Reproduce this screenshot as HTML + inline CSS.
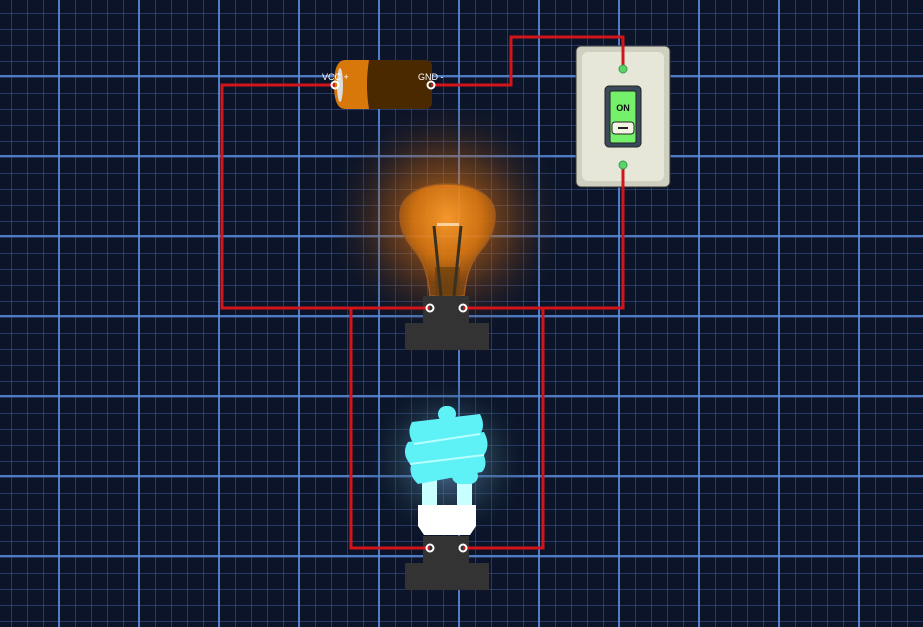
<!DOCTYPE html>
<html><head><style>
html,body{margin:0;padding:0;}
body{width:923px;height:627px;overflow:hidden;background:#0b1429;
background-image:
linear-gradient(90deg, rgba(90,140,220,0.85) 0 2px, transparent 2px),
linear-gradient(0deg, rgba(90,140,220,0.85) 0 2px, transparent 2px),
linear-gradient(90deg, rgba(60,90,150,0.55) 0 1px, transparent 1px),
linear-gradient(0deg, rgba(60,90,150,0.55) 0 1px, transparent 1px);
background-size:80px 80px,80px 80px,16px 16px,16px 16px;
background-position:58px 0,0 77px,11px 0,0 14px;}
svg{position:absolute;left:0;top:0}
</style></head><body>
<svg width="923" height="627" viewBox="0 0 923 627" font-family="Liberation Sans, sans-serif">
<defs>
<radialGradient id="og" cx="0.5" cy="0.5" r="0.5">
<stop offset="0" stop-color="#ff8a10" stop-opacity="0.8"/>
<stop offset="0.5" stop-color="#b05a10" stop-opacity="0.4"/>
<stop offset="1" stop-color="#0b1429" stop-opacity="0"/>
</radialGradient>
<radialGradient id="cg" cx="0.5" cy="0.5" r="0.5">
<stop offset="0" stop-color="#7ad" stop-opacity="0.7"/>
<stop offset="0.6" stop-color="#356" stop-opacity="0.35"/>
<stop offset="1" stop-color="#0b1429" stop-opacity="0"/>
</radialGradient>
<radialGradient id="bulb" cx="0.5" cy="0.3" r="0.6">
<stop offset="0" stop-color="#ffa030"/>
<stop offset="0.6" stop-color="#e07a10"/>
<stop offset="1" stop-color="#8a4a10"/>
</radialGradient>
</defs>
<circle cx="447" cy="220" r="125" fill="url(#og)"/>
<circle cx="447" cy="460" r="85" fill="url(#cg)"/>
<!-- incandescent bulb -->
<path d="M430,296 C428,275 424,262 414,250 C404,238 400,228 400,215 C400,196 420,184 447,184 C474,184 495,196 495,215 C495,228 491,238 481,250 C471,262 466,275 464,296 Z" fill="url(#bulb)" fill-opacity="0.8" stroke="#a05a20" stroke-width="1.5"/>
<rect x="435" y="267" width="25" height="30" fill="#6a4010" opacity="0.7"/>
<rect x="437" y="223" width="22" height="3" fill="#ffd0a0"/>
<path d="M434,226 L441,296 M461,226 L454,296" stroke="#3a3020" stroke-width="3"/>
<rect x="423" y="296" width="46" height="28" fill="#333"/>
<rect x="405" y="323" width="84" height="27" fill="#333"/>
<!-- CFL -->
<rect x="422" y="480" width="15" height="30" fill="#c8ffff"/>
<rect x="457" y="480" width="15" height="30" fill="#c8ffff"/>
<g fill="#5ef2f7">
<rect x="438" y="406" width="18" height="16" rx="8"/>
<path d="M412,422 L480,414 Q486,426 480,434 L414,444 Q406,433 412,422Z"/>
<path d="M408,442 L484,432 Q491,445 484,455 L410,464 Q401,453 408,442Z"/>
<path d="M412,462 L482,452 Q489,464 482,472 L418,484 Q407,474 412,462Z"/>
<rect x="452" y="468" width="26" height="16" rx="8"/>
</g>
<g stroke="#b8ffff" stroke-width="2" fill="none">
<path d="M414,444 L480,434"/><path d="M410,464 L484,455"/>
</g>
<path d="M418,505 L476,505 L476,526 L470,535 L424,535 L418,526Z" fill="#fff"/>
<rect x="423" y="536" width="46" height="28" fill="#333"/>
<rect x="405" y="563" width="84" height="27" fill="#333"/>
<!-- battery -->
<rect x="355" y="60" width="77" height="49" rx="6" fill="#4a2800"/>
<path d="M345,60 L369,60 Q365,85 369,109 L345,109 Q334,109 334,85 Q334,60 345,60Z" fill="#d8780a"/>
<ellipse cx="340" cy="85" rx="3" ry="17" fill="#ddd"/>
<text x="322" y="80" font-size="9" fill="#fff">VCC +</text>
<text x="418" y="80" font-size="9" fill="#fff">GND -</text>
<!-- switch -->
<rect x="576" y="46" width="94" height="141" rx="5" fill="#cfd0c0" stroke="#333" stroke-width="1"/>
<rect x="582" y="52" width="82" height="129" rx="6" fill="#e6e7d8"/>
<rect x="605" y="86" width="36" height="61" rx="4" fill="#3a4a5a" stroke="#222"/>
<rect x="610" y="91" width="26" height="52" rx="2" fill="#74f06a" stroke="#222"/>
<text x="623" y="111" font-size="9" font-weight="bold" text-anchor="middle" fill="#111">ON</text>
<rect x="612" y="122" width="22" height="12" rx="3" fill="#f4f4e4" stroke="#222"/>
<rect x="618" y="127" width="10" height="2" fill="#222"/>
<!-- wires -->
<g fill="none" stroke="#d2151b" stroke-width="3">
<path d="M335,85 H222 V308 H430"/>
<path d="M431,85 H511 V37 H623 V69"/>
<path d="M623,165 V308 H463"/>
<path d="M351,308 V548 H430"/>
<path d="M543,308 V548 H463"/>
</g>
<g fill="#5ad46a" stroke="#3a9a4a"><circle cx="623" cy="69" r="4"/><circle cx="623" cy="165" r="4"/></g>
<g fill="none" stroke="#fff" stroke-width="2"><circle cx="335" cy="85" r="3.5"/><circle cx="431" cy="85" r="3.5"/><circle cx="430" cy="308" r="3.5"/><circle cx="463" cy="308" r="3.5"/><circle cx="430" cy="548" r="3.5"/><circle cx="463" cy="548" r="3.5"/></g>
</svg>
</body></html>
